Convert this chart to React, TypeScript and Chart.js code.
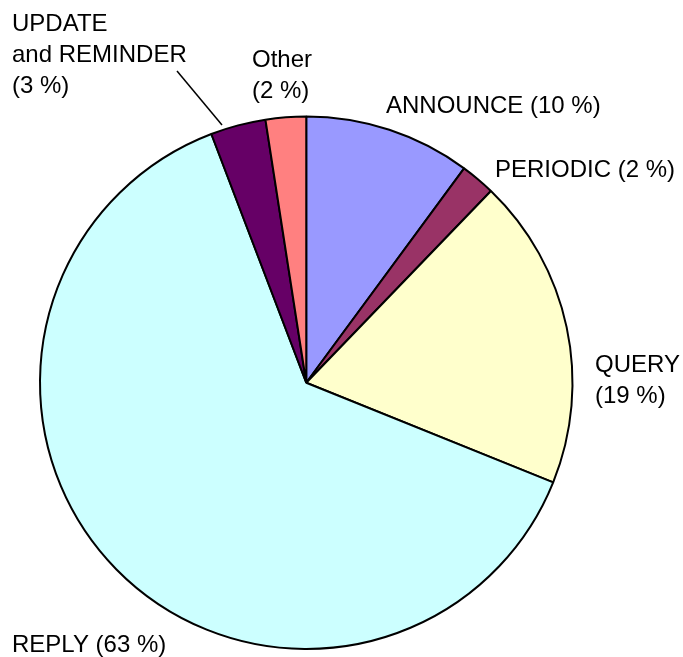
import React, { useEffect, useRef } from "react";
import { Chart, registerables } from "chart.js";

Chart.register(...registerables);

const categories = ["ANNOUNCE", "PERIODIC", "QUERY", "REPLY", "UPDATE and REMINDER", "Other"];
const values = [10.1, 2.1, 18.9, 63.1, 3.35, 2.45];
const colors = ["#9999FF", "#993366", "#FFFFCC", "#CCFFFF", "#660066", "#FF8080"];
// label text lines (the percent is appended from the values)
const labelLines = [
  ["ANNOUNCE"],
  ["PERIODIC"],
  ["QUERY", ""],
  ["REPLY"],
  ["UPDATE", "and REMINDER", ""],
  ["Other", ""],
];

// layout (left x, first baseline y) for each label
const labelLayout = [
  { x: 386, y: 113 },
  { x: 495, y: 177 },
  { x: 595, y: 372 },
  { x: 12, y: 652 },
  { x: 12, y: 31 },
  { x: 252, y: 67 },
];

const labelsPlugin = {
  id: "pieLabels",
  afterDraw(chart: any) {
    const ctx = chart.ctx;
    ctx.save();
    ctx.fillStyle = "#000";
    ctx.font = '24px "Liberation Sans", Arial, sans-serif';
    ctx.textBaseline = "alphabetic";
    ctx.textAlign = "left";
    const lineH = 31;
    values.forEach((v, i) => {
      const pct = "(" + Math.round(v) + " %)";
      const lines = labelLines[i].slice();
      const last = lines.length - 1;
      if (lines[last] === "") lines[last] = pct;
      else lines[last] = lines[last] + " " + pct;
      const pos = labelLayout[i];
      lines.forEach((t, k) => ctx.fillText(t, pos.x, pos.y + k * lineH));
    });
    // leader line for UPDATE and REMINDER
    ctx.strokeStyle = "#000";
    ctx.lineWidth = 1.5;
    ctx.beginPath();
    ctx.moveTo(177, 71);
    ctx.lineTo(222, 125);
    ctx.stroke();
    ctx.restore();
  },
};

export default function App() {
  const ref = useRef<HTMLCanvasElement | null>(null);
  useEffect(() => {
    if (!ref.current) return;
    const chart = new Chart(ref.current, {
      type: "pie",
      data: {
        labels: categories,
        datasets: [
          {
            data: values,
            backgroundColor: colors,
            borderColor: "#000",
            borderWidth: 2,
          },
        ],
      },
      options: {
        animation: false,
        responsive: false,
        maintainAspectRatio: false,
        layout: { padding: { left: 39, top: 115.5, right: 109.5, bottom: 7 } },
        plugins: {
          legend: { display: false },
          tooltip: { enabled: false },
        },
      },
      plugins: [labelsPlugin],
    });
    return () => chart.destroy();
  }, []);
  return (
    <div style={{ position: "fixed", left: 0, top: 0, width: 683, height: 657, background: "#fff" }}>
      <canvas ref={ref} width={683} height={657} style={{ width: 683, height: 657 }} />
    </div>
  );
}
